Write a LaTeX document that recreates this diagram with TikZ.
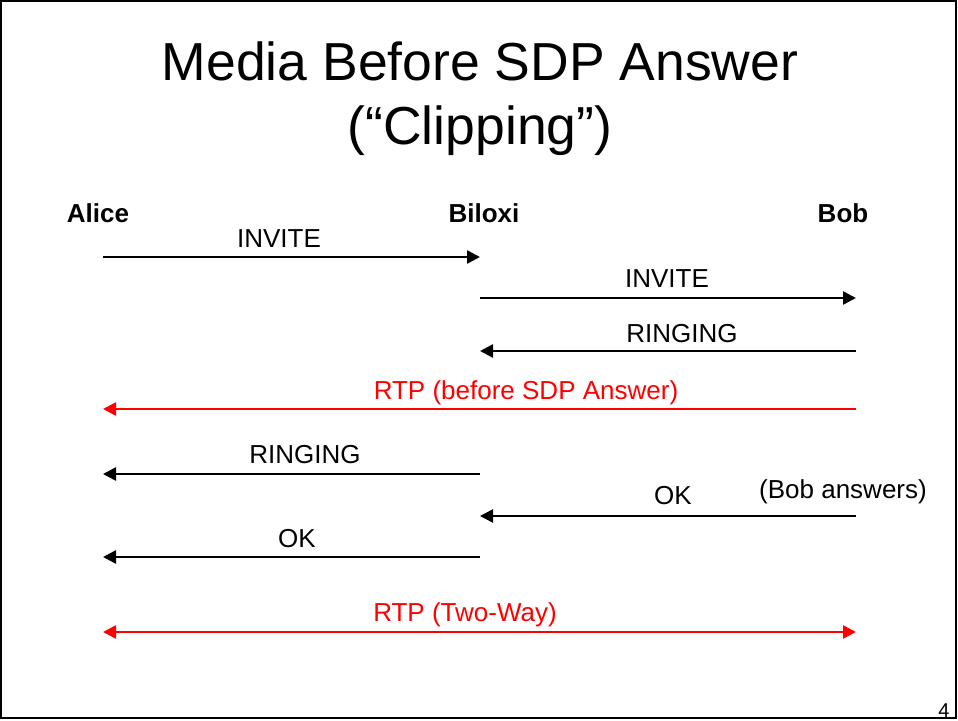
\documentclass[tikz,border=0pt]{standalone}
\usepackage{fontspec}
\setmainfont{Liberation Sans}
\usetikzlibrary{arrows.meta}
\begin{document}
\begin{tikzpicture}[x=1pt,y=-1pt,
  tip/.tip={Triangle[length=13pt,width=13pt]},
  msg/.style={line width=2.5pt,-tip},
  media/.style={msg,red},
  lbl/.style={anchor=base,inner sep=0pt,font=\fontsize{26}{30}\selectfont},
  party/.style={anchor=base,inner sep=0pt,font=\fontsize{26}{30}\selectfont\bfseries},
  heading/.style={anchor=base,inner sep=0pt,font=\fontsize{53.5}{60}\selectfont}]
  \useasboundingbox (0,0) rectangle (958,720);
  \draw[line width=2pt] (1,1) rectangle (956,718);

  % title
  \node[heading] (t1) at (480,80) {Media Before SDP Answer};
  \node[heading] (t2) at (480,144) {(“Clipping”)};

  % participants
  \node[party] (alice) at (98,222) {Alice};
  \node[party] (biloxi) at (484,222) {Biloxi};
  \node[party] (bob) at (843,222) {Bob};

  % message end points on the three lifelines
  \foreach \n/\y in {1/257,2/298,3/351,4/409,5/474,6/516,7/557,8/632} {
    \coordinate (A\n) at (103,\y);
    \coordinate (L\n) at (480,\y);
    \coordinate (B\n) at (856,\y);
  }

  \draw[msg] (A1) -- (L1);
  \node[lbl] (m1) at (279,247) {INVITE};

  \draw[msg] (L2) -- (B2);
  \node[lbl] (m2) at (667,287) {INVITE};

  \draw[msg] (B3) -- (L3);
  \node[lbl] (m3) at (682,342) {RINGING};

  \draw[media] (B4) -- (A4);
  \node[lbl,red] (m4) at (526,399) {RTP (before SDP Answer)};

  \draw[msg] (L5) -- (A5);
  \node[lbl] (m5) at (305,463) {RINGING};

  \draw[msg] (B6) -- (L6);
  \node[lbl] (m6) at (673,504) {OK};
  \node[lbl] (note) at (843,498) {(Bob answers)};

  \draw[msg] (L7) -- (A7);
  \node[lbl] (m7) at (297,547) {OK};

  \draw[media,tip-tip] (A8) -- (B8);
  \node[lbl,red] (m8) at (465,621) {RTP (Two-Way)};

  % page number
  \node[anchor=base,inner sep=0pt,font=\fontsize{20}{22}\selectfont] (pg) at (944,717) {4};
\end{tikzpicture}
\end{document}
